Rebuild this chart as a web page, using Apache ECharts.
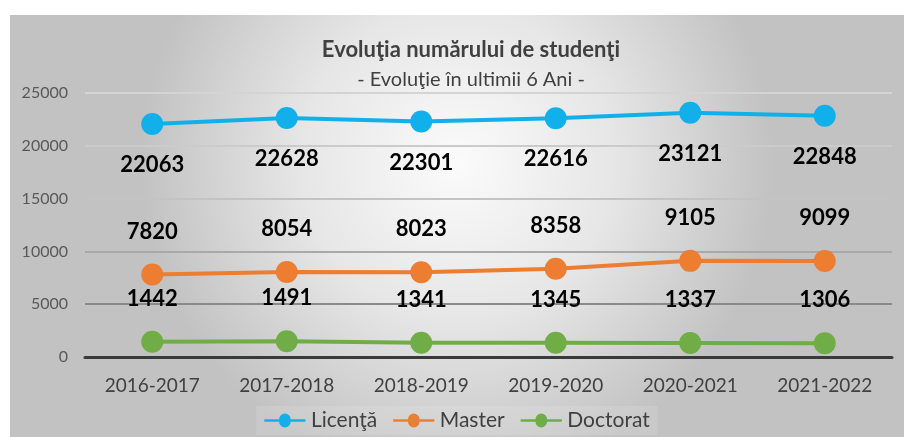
<!DOCTYPE html>
<html>
<head>
<meta charset="utf-8">
<script src="https://cdn.jsdelivr.net/npm/echarts@6/dist/echarts.min.js"></script>
<style>
html,body{margin:0;padding:0;background:#fff;}
#c{position:absolute;left:10px;top:15px;width:894px;height:422px;}
</style>
</head>
<body>
<div id="c"></div>
<script>
const categories = ['2016-2017','2017-2018','2018-2019','2019-2020','2020-2021','2021-2022'];
const licenta = [22063, 22628, 22301, 22616, 23121, 22848];
const master = [7820, 8054, 8023, 8358, 9105, 9099];
const doctorat = [1442, 1491, 1341, 1345, 1337, 1306];
const yTicks = [0, 5000, 10000, 15000, 20000, 25000];
const titleText = 'Evoluţia numărului de studenţi';
const subtitleText = '- Evoluţie în ultimii 6 Ani -';
const seriesNames = ['Licenţă', 'Master', 'Doctorat'];

const FONT = 'Lato, "Open Sans", sans-serif';
const chart = echarts.init(document.getElementById('c'));
const lbl = (pos, dist) => ({
  show: true, position: pos, distance: dist,
  color: '#000', fontWeight: 'bold', fontSize: 22, fontFamily: FONT
});
function mk(name, data, color, pos, dist) {
  return {
    name, type: 'line', data,
    symbol: 'circle', symbolSize: 22,
    lineStyle: { width: 4, color },
    itemStyle: { color },
    label: lbl(pos, dist),
    z: 3
  };
}
chart.setOption({
  backgroundColor: {
    type: 'radial', x: 0.5, y: 0.35, r: 0.75,
    colorStops: [
      { offset: 0, color: '#fbfbfb' },
      { offset: 0.5, color: '#e6e6e6' },
      { offset: 1, color: '#c2c2c2' }
    ]
  },
  animation: false,
  title: [
    { text: titleText, left: 456, top: 19, textAlign: 'center',
      textStyle: { fontFamily: FONT, fontSize: 22, fontWeight: 'bold', color: '#404040' } },
    { text: subtitleText, left: 456, top: 50, textAlign: 'center',
      textStyle: { fontFamily: FONT, fontSize: 20, fontWeight: 'normal', color: '#404040' } }
  ],
  legend: {
    data: seriesNames, bottom: 2, left: 'center',
    itemWidth: 50, itemHeight: 14, itemGap: 16,
    backgroundColor: 'rgba(255,255,255,0.12)',
    padding: [4, 8],
    icon: 'path://M0,6 L18,6 A7,7 0 1 1 32,6 L50,6 L50,9 L32,9 A7,7 0 1 1 18,9 L0,9 Z',
    textStyle: { fontFamily: FONT, fontSize: 21, color: '#404040', padding: [0, 0, 0, -4] }
  },
  grid: { left: 75, right: 12, top: 78, bottom: 80 },
  xAxis: {
    type: 'category', data: categories, boundaryGap: true,
    axisLine: { lineStyle: { color: '#3a3a3a', width: 3 } },
    axisTick: { show: false },
    axisLabel: { fontFamily: FONT, fontSize: 19, color: '#404040', margin: 19 }
  },
  yAxis: {
    type: 'value', min: 0, max: 25000, interval: 5000,
    axisLine: { show: false }, axisTick: { show: false },
    axisLabel: { fontFamily: FONT, fontSize: 16, color: '#595959', margin: 17,
      formatter: v => yTicks.includes(v) ? String(v) : '' },
    splitLine: { lineStyle: { width: 2, color: ['#3a3a3a', '#8a8a8a', '#a9a9a9', '#c3c3c3', '#cbcbcb', '#d4d4d4'] } }
  },
  series: [
    mk(seriesNames[0], licenta, '#12b0eb', 'bottom', 19),
    mk(seriesNames[1], master, '#ed7d31', 'top', 21),
    mk(seriesNames[2], doctorat, '#70ad47', 'top', 21)
  ]
});
</script>
</body>
</html>
